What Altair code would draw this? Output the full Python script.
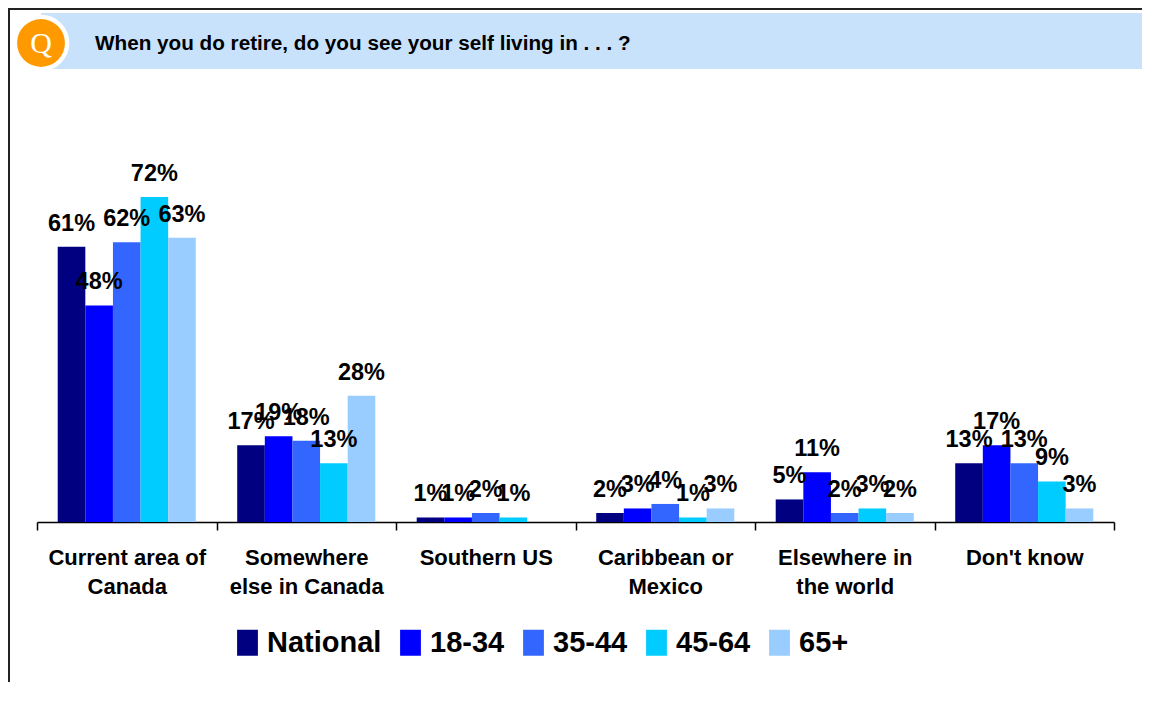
import altair as alt
import pandas as pd

# ---- data ----
categories = ["Current area of|Canada", "Somewhere|else in Canada", "Southern US",
              "Caribbean or|Mexico", "Elsewhere in|the world", "Don't know"]
series = ["National", "18-34", "35-44", "45-64", "65+"]
national = [61, 17, 1, 2, 5, 13]
age_18_34 = [48, 19, 1, 3, 11, 17]
age_35_44 = [62, 18, 2, 4, 2, 13]
age_45_64 = [72, 13, 1, 1, 3, 9]
age_65_plus = [63, 28, None, 3, 2, 3]
colors = ["#000080", "#0000FF", "#3366FF", "#00CCFF", "#99CCFF"]
question = "When you do retire, do you see your self living in . . . ?"

rows = []
for s, vals in zip(series, [national, age_18_34, age_35_44, age_45_64, age_65_plus]):
    for c, v in zip(categories, vals):
        if v is not None:
            rows.append({"category": c, "series": s, "value": v})
df = pd.DataFrame(rows)
one = pd.DataFrame({"a": [0]})

FONT = "Liberation Sans"
W, H = 1077, 361
PR, PB = 28, 160

x_enc = alt.X("category:N", sort=categories,
              scale=alt.Scale(paddingInner=0, paddingOuter=0),
              axis=alt.Axis(title=None, labelExpr="split(datum.label, '|')", labelAngle=0,
                            tickBand="extent", domainColor="black", domainWidth=1.5,
                            tickColor="black", tickSize=8, tickWidth=1.5,
                            labelFont=FONT, labelFontWeight="bold", labelFontSize=22,
                            labelColor="black", labelPadding=17, labelLineHeight=29,
                            grid=False))
xo_enc = alt.XOffset("series:N", sort=series,
                     scale=alt.Scale(paddingInner=0, paddingOuter=0.75))
y_enc = alt.Y("value:Q", scale=alt.Scale(domain=[0, 80]), axis=None)

base = alt.Chart(df)
bars = base.mark_bar(opacity=1).encode(
    x=x_enc, xOffset=xo_enc, y=y_enc,
    color=alt.Color("series:N", sort=series,
                    scale=alt.Scale(domain=series, range=colors),
                    legend=alt.Legend(title=None, orient="none", legendX=196, legendY=467,
                                      direction="horizontal",
                                      symbolType="M-0.8,-1H0.8V1H-0.8Z",
                                      symbolSize=676, symbolStrokeWidth=0, symbolOpacity=1,
                                      labelFont=FONT, labelFontWeight="bold",
                                      labelFontSize=29, labelColor="black",
                                      labelOffset=5, columnPadding=14)),
)
labels = base.transform_calculate(label="datum.value + '%'").mark_text(
    dy=-23, baseline="middle", align="center", font=FONT, fontSize=23.5,
    fontWeight="bold", color="black"
).encode(x=x_enc, xOffset=xo_enc, y=y_enc, text="label:N")

dec = alt.Chart(one)
band = dec.mark_rect(color="#C8E2FC").encode(
    x=alt.value(4), x2=alt.value(1109), y=alt.value(-148), y2=alt.value(-92))
ring = dec.mark_circle(color="white", size=3217, opacity=1).encode(
    x=alt.value(4), y=alt.value(-118))
qdot = dec.mark_circle(color="#FF9900", size=2290, opacity=1).encode(
    x=alt.value(4), y=alt.value(-118))
qtext = dec.mark_text(text="Q", font="Liberation Serif", fontSize=30, color="white",
                      baseline="middle", align="center").encode(
    x=alt.value(4), y=alt.value(-117))
title = dec.mark_text(text=question, align="left", baseline="middle", font=FONT,
                      fontSize=20.7, fontWeight="bold", color="black").encode(
    x=alt.value(58), y=alt.value(-117))
top_line = dec.mark_rule(color="#222222", strokeWidth=2).encode(
    x=alt.value(-29), x2=alt.value(W + PR), y=alt.value(-152))
left_line = dec.mark_rule(color="#222222", strokeWidth=2).encode(
    x=alt.value(-28), y=alt.value(-152), y2=alt.value(H + PB))

chart = alt.layer(band, ring, qdot, qtext, title, top_line, left_line, bars, labels).properties(
    width=W, height=H,
    padding={"left": 29, "top": 153, "right": PR, "bottom": PB},
    autosize=alt.AutoSizeParams(type="none"),
).configure_view(strokeWidth=0)

chart.save("out.html", embed_options={"renderer": "svg", "actions": False})
